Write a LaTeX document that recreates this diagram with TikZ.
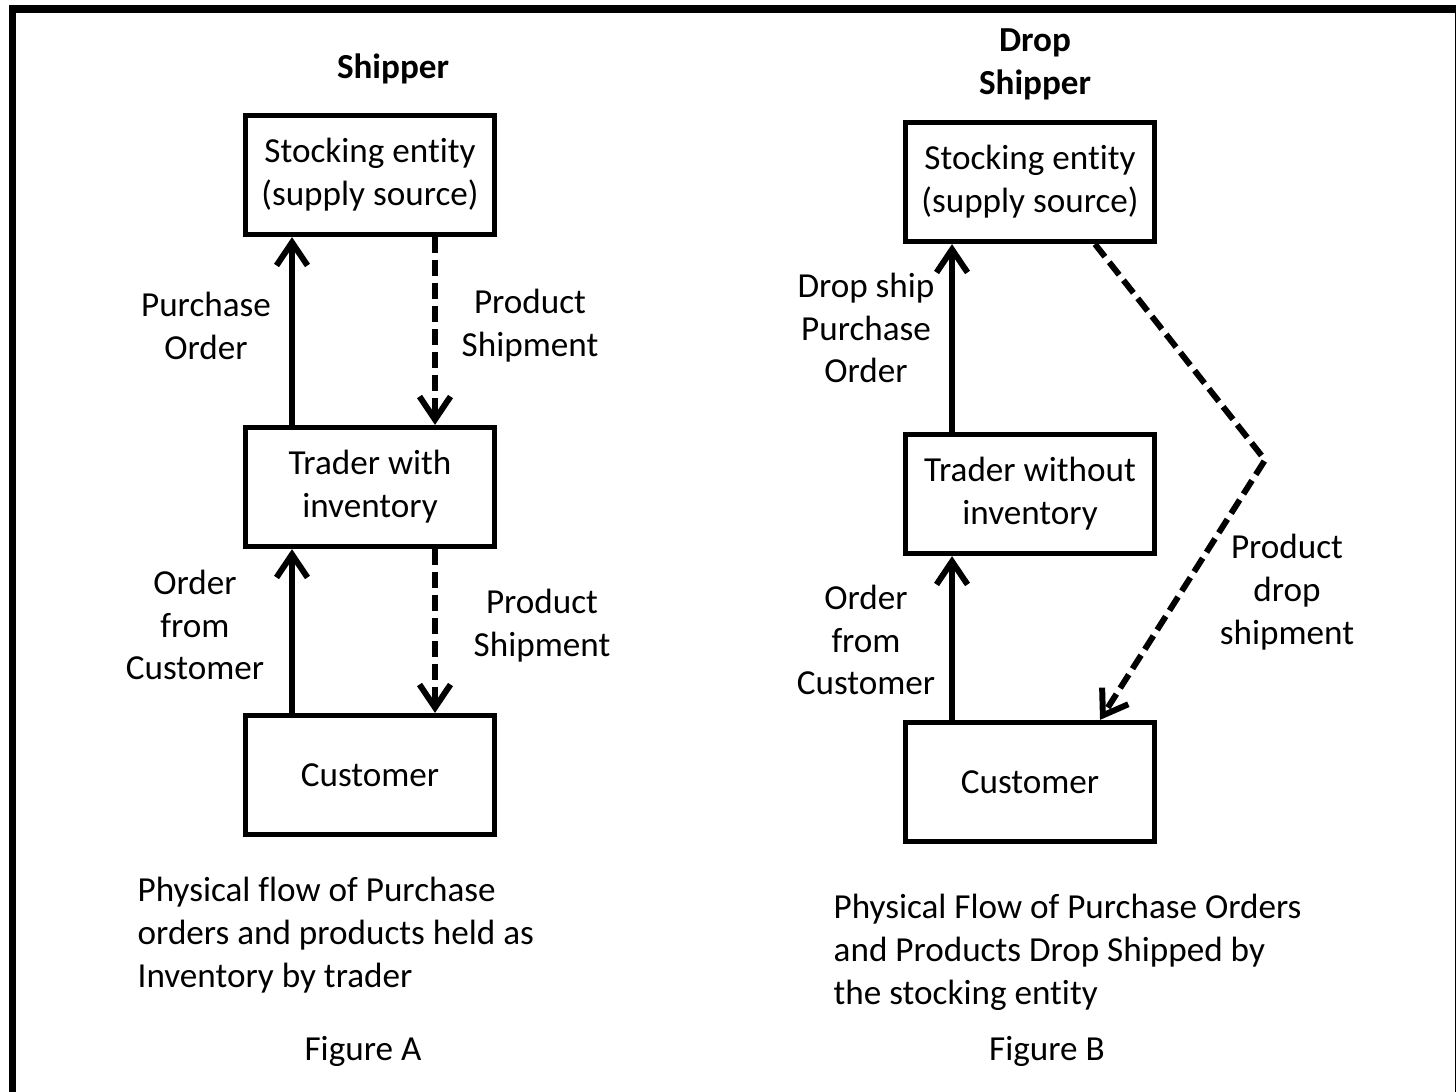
\documentclass[tikz,border=0pt]{standalone}
\usepackage{fontspec}
\setmainfont{Carlito}[Ligatures=NoCommon]
\usetikzlibrary{arrows.meta}
\tikzstyle{entity} = [rectangle, minimum width=2.49cm, minimum height=1.19cm, text centered, align=center, line width=1.5pt, draw=black]
\tikzstyle{flowtext} = [align=center, inner sep=0pt]
\tikzstyle{captiontext} = [align=left, anchor=west, inner sep=0pt]
\tikzstyle{heading} = [align=center, font=\fontsize{10}{12.2}\selectfont\bfseries]
\tikzstyle{arrow} = [line width=1.7pt, -{Straight Barb[length=2.3mm, width=3.1mm]}]
\tikzstyle{dasharrow} = [arrow, dash pattern=on 1.6mm off 0.7mm]
\begin{document}
\begin{tikzpicture}[node distance=3cm, font=\fontsize{10}{12.2}\selectfont]
	\useasboundingbox (0,0) rectangle (14.56,-10.91);
	\draw [line width=2pt] (0.125,-0.09) rectangle (14.58,-11.3);
	% figure A
	\node (shipA) [heading] at (3.93,-0.69) {Shipper};
	\node (stockA) [entity] at (3.70,-1.75) {Stocking entity\\(supply source)};
	\node (traderA) [entity, below of=stockA, yshift=-0.12cm] {Trader with\\inventory};
	\node (custA) [entity, below of=traderA, yshift=0.12cm] {Customer};
	\node (poA) [flowtext] at (2.06,-3.26) {Purchase\\Order};
	\node (shipmentA1) [flowtext] at (5.30,-3.26) {Product\\Shipment};
	\node (orderA) [flowtext] at (1.95,-6.25) {Order\\from\\Customer};
	\node (shipmentA2) [flowtext] at (5.42,-6.26) {Product\\Shipment};
	\node (capA) [captiontext] at (1.37,-9.35) {Physical flow of Purchase\\orders and products held as\\Inventory by trader};
	\node (figA) at (3.63,-10.51) {Figure A};
	\draw [arrow] ([xshift=-0.78cm]traderA.north) -- ([xshift=-0.78cm]stockA.south);
	\draw [dasharrow] ([xshift=0.65cm]stockA.south) -- ([xshift=0.65cm]traderA.north);
	\draw [arrow] ([xshift=-0.78cm]custA.north) -- ([xshift=-0.78cm]traderA.south);
	\draw [dasharrow] ([xshift=0.65cm]traderA.south) -- ([xshift=0.65cm]custA.north);
	% figure B
	\node (shipB) [heading] at (10.35,-0.645) {Drop\\Shipper};
	\node (stockB) [entity] at (10.30,-1.82) {Stocking entity\\(supply source)};
	\node (traderB) [entity, below of=stockB, yshift=-0.12cm] {Trader without\\inventory};
	\node (custB) [entity, below of=traderB, yshift=0.12cm] {Customer};
	\node (poB) [flowtext] at (8.66,-3.28) {Drop ship\\Purchase\\Order};
	\node (orderB) [flowtext] at (8.66,-6.40) {Order\\from\\Customer};
	\node (dropB) [flowtext] at (12.87,-5.92) {Product\\drop\\shipment};
	\node (capB) [captiontext] at (8.33,-9.52) {Physical Flow of Purchase Orders\\and Products Drop Shipped by\\the stocking entity};
	\node (figB) at (10.47,-10.51) {Figure B};
	\coordinate (bendB) at (12.65,-4.60);
	\draw [arrow] ([xshift=-0.78cm]traderB.north) -- ([xshift=-0.78cm]stockB.south);
	\draw [arrow] ([xshift=-0.78cm]custB.north) -- ([xshift=-0.78cm]traderB.south);
	\draw [dasharrow] ([xshift=0.65cm]stockB.south) -- (bendB) -- ([xshift=0.70cm]custB.north);
\end{tikzpicture}
\end{document}
